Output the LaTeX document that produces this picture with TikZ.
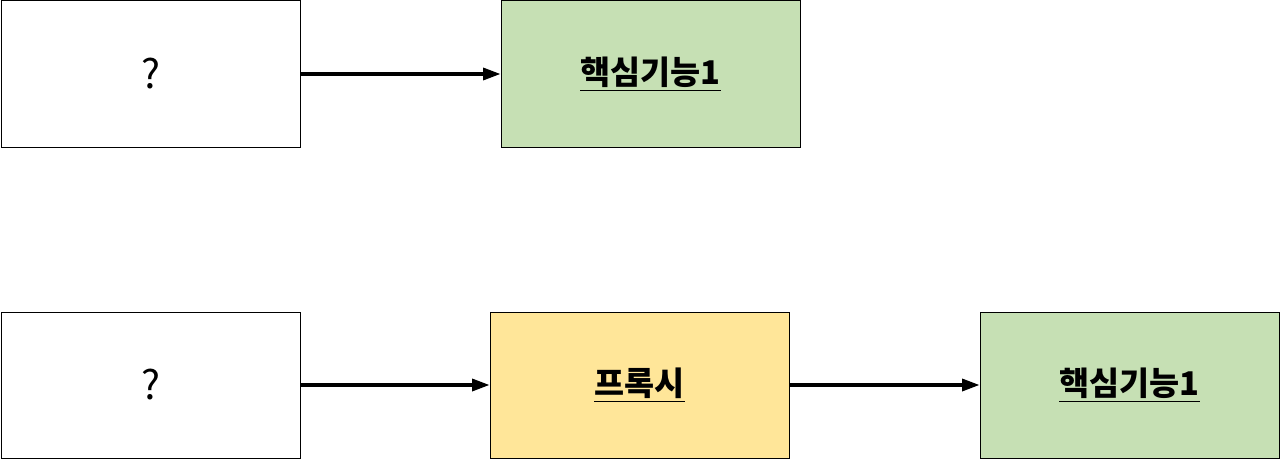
\documentclass[tikz,border=0pt]{standalone}
\usepackage{fontspec}
\setmainfont{Noto Sans CJK KR}
\usetikzlibrary{arrows.meta}
\definecolor{funcgreen}{HTML}{C6E0B4}
\definecolor{proxyyellow}{HTML}{FFE699}
\tikzset{
  box/.style={draw=black, line width=0.75pt, minimum width=224.25pt, minimum height=109.5pt, inner sep=0pt},
  link/.style={line width=2.4pt, -{Triangle[length=13pt,width=9pt]}},
  lbl/.style={font=\fontsize{24.5pt}{28pt}\selectfont\bfseries},
  qmark/.style={font=\fontsize{30pt}{34pt}\selectfont}
}
\begin{document}
\begin{tikzpicture}[x=0.75pt,y=-0.75pt]
\useasboundingbox (0,0) rectangle (1280,460);

% top row
\node[box, qmark] (q1) at (150.5,74) {?};
\node[box, fill=funcgreen, lbl] (f1) at (650.5,74) {\underline{핵심기능1}};

% bottom row
\node[box, qmark] (q2) at (150.5,385) {?};
\node[box, fill=proxyyellow, lbl] (px) at (639.5,385) {\underline{프록시}};
\node[box, fill=funcgreen, lbl] (f2) at (1129.5,385) {\underline{핵심기능1}};

\draw[link] (q1) -- (f1);
\draw[link] (q2) -- (px);
\draw[link] (px) -- (f2);

\end{tikzpicture}
\end{document}
